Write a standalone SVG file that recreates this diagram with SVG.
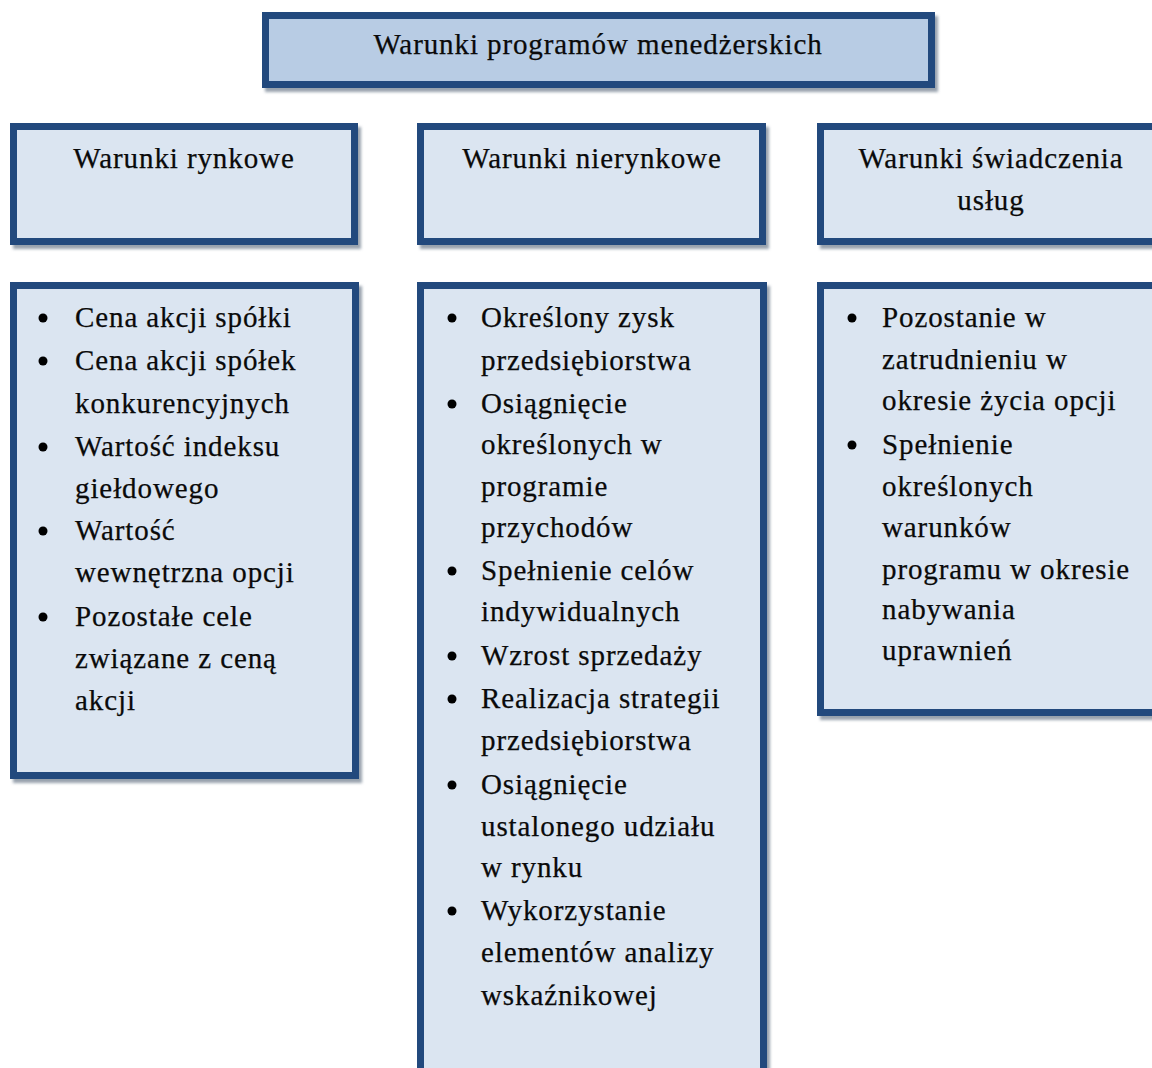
<svg xmlns="http://www.w3.org/2000/svg" width="1152" height="1068" viewBox="0 0 1152 1068">
<defs>
<filter id="sh" x="-10%" y="-10%" width="130%" height="130%">
<feDropShadow dx="3" dy="4" stdDeviation="1.5" flood-color="#7f8a99" flood-opacity="0.8"/>
</filter>
<style>
.box{stroke:#224a7d;stroke-width:7;filter:url(#sh)}
.top{fill:#b8cce4}
.sub{fill:#dbe5f1}
text{font-family:"Liberation Serif","Times New Roman",serif;font-size:29px;fill:#0a0a0a;stroke:#0a0a0a;stroke-width:0.25;letter-spacing:0.9px}
.c{text-anchor:middle}
.b{fill:#000}
</style>
</defs>
<rect width="1152" height="1068" fill="#ffffff"/>
<g id="title">
<rect class="box top" x="265.5" y="15.5" width="666" height="69"/>
<text class="c" x="598" y="54">Warunki programów menedżerskich</text>
</g>
<g id="h-rynkowe">
<rect class="box sub" x="13.5" y="126.5" width="341" height="115"/>
<text class="c" x="184" y="168">Warunki rynkowe</text>
</g>
<g id="h-nierynkowe">
<rect class="box sub" x="420.5" y="126.5" width="342" height="115"/>
<text class="c" x="592" y="168">Warunki nierynkowe</text>
</g>
<g id="h-uslugi">
<rect class="box sub" x="820.5" y="126.5" width="345" height="115"/>
<text class="c" x="991" y="168">Warunki świadczenia</text>
<text class="c" x="991" y="210">usług</text>
</g>
<g id="l-rynkowe">
<rect class="box sub" x="13.5" y="285.5" width="342" height="490"/>
<circle class="b" cx="43" cy="318" r="4.5"/>
<circle class="b" cx="43" cy="361" r="4.5"/>
<circle class="b" cx="43" cy="447" r="4.5"/>
<circle class="b" cx="43" cy="531" r="4.5"/>
<circle class="b" cx="43" cy="617" r="4.5"/>
<text x="75" y="327">Cena akcji spółki</text>
<text x="75" y="370">Cena akcji spółek</text>
<text x="75" y="413">konkurencyjnych</text>
<text x="75" y="456">Wartość indeksu</text>
<text x="75" y="498">giełdowego</text>
<text x="75" y="540">Wartość</text>
<text x="75" y="582">wewnętrzna opcji</text>
<text x="75" y="626">Pozostałe cele</text>
<text x="75" y="668">związane z ceną</text>
<text x="75" y="710">akcji</text>
</g>
<g id="l-nierynkowe">
<rect class="box sub" x="420.5" y="285.5" width="343" height="795"/>
<circle class="b" cx="452" cy="318" r="4.5"/>
<circle class="b" cx="452" cy="404" r="4.5"/>
<circle class="b" cx="452" cy="571" r="4.5"/>
<circle class="b" cx="452" cy="656" r="4.5"/>
<circle class="b" cx="452" cy="699" r="4.5"/>
<circle class="b" cx="452" cy="785" r="4.5"/>
<circle class="b" cx="452" cy="911" r="4.5"/>
<text x="481" y="327">Określony zysk</text>
<text x="481" y="370">przedsiębiorstwa</text>
<text x="481" y="413">Osiągnięcie</text>
<text x="481" y="454">określonych w</text>
<text x="481" y="496">programie</text>
<text x="481" y="537">przychodów</text>
<text x="481" y="580">Spełnienie celów</text>
<text x="481" y="621">indywidualnych</text>
<text x="481" y="665">Wzrost sprzedaży</text>
<text x="481" y="708">Realizacja strategii</text>
<text x="481" y="750">przedsiębiorstwa</text>
<text x="481" y="794">Osiągnięcie</text>
<text x="481" y="836">ustalonego udziału</text>
<text x="481" y="877">w rynku</text>
<text x="481" y="920">Wykorzystanie</text>
<text x="481" y="962">elementów analizy</text>
<text x="481" y="1005">wskaźnikowej</text>
</g>
<g id="l-uslugi">
<rect class="box sub" x="820.5" y="285.5" width="345" height="427"/>
<circle class="b" cx="852" cy="318" r="4.5"/>
<circle class="b" cx="852" cy="445" r="4.5"/>
<text x="882" y="327">Pozostanie w</text>
<text x="882" y="369">zatrudnieniu w</text>
<text x="882" y="410">okresie życia opcji</text>
<text x="882" y="454">Spełnienie</text>
<text x="882" y="496">określonych</text>
<text x="882" y="537">warunków</text>
<text x="882" y="579">programu w okresie</text>
<text x="882" y="619">nabywania</text>
<text x="882" y="660">uprawnień</text>
</g>
<g id="connectors"></g>
</svg>
